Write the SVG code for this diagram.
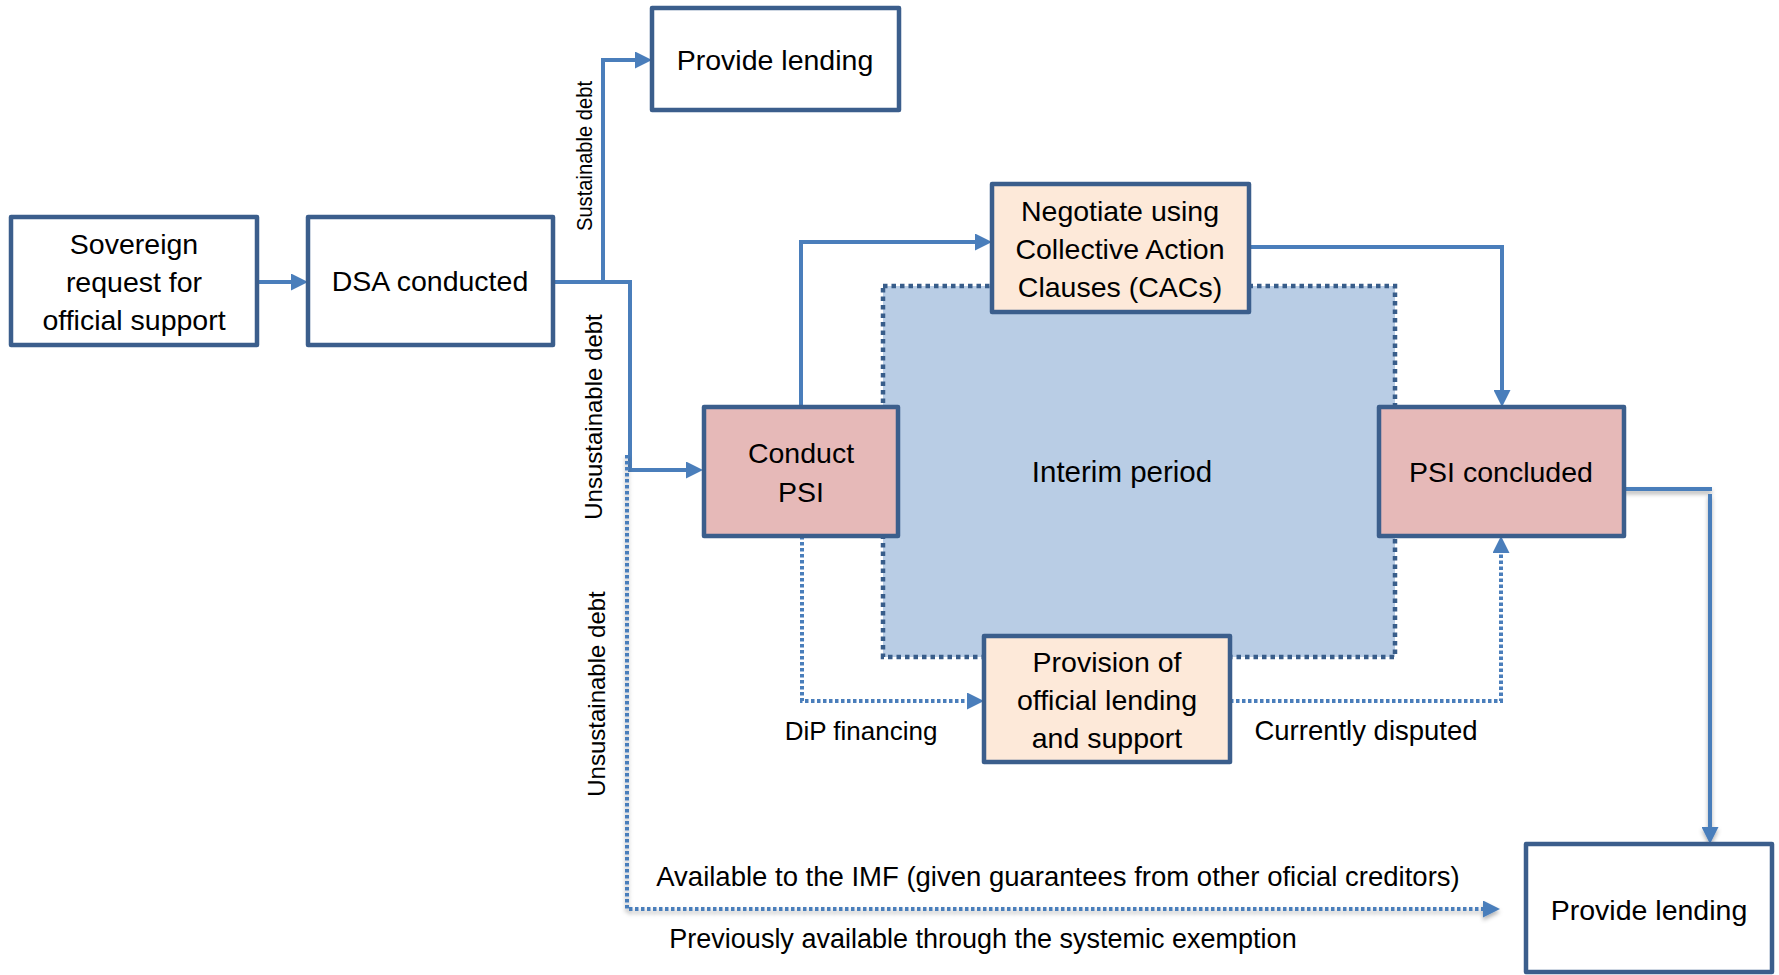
<svg xmlns="http://www.w3.org/2000/svg" width="1779" height="975" viewBox="0 0 1779 975">
<style>
.box{stroke:#3B5E8C;stroke-width:4.5;stroke-linejoin:round}
.w{fill:#fff}
.pink{fill:#E6B9B8}
.peach{fill:#FDE9D9}
.t{font-family:"Liberation Sans",Arial,sans-serif;font-size:28.5px;fill:#000;text-anchor:middle}
.lbl{font-family:"Liberation Sans",Arial,sans-serif;font-size:27px;fill:#000;text-anchor:middle}
.rot{font-family:"Liberation Sans",Arial,sans-serif;font-size:24px;fill:#000;text-anchor:middle}
.c{fill:none;stroke:#4A7EBB;stroke-width:4;marker-end:url(#ah)}
.d{fill:none;stroke:#4A7EBB;stroke-width:4;stroke-dasharray:3.5 2.5;marker-end:url(#ah)}
</style>
<defs>
<marker id="ah" markerUnits="userSpaceOnUse" markerWidth="17" markerHeight="17" refX="9" refY="8.5" orient="auto" viewBox="0 0 17 17"><path d="M0,0 L17,8.5 L0,17 Z" fill="#4A7EBB"/></marker>
<filter id="sh" x="-10%" y="-10%" width="120%" height="120%" filterUnits="userSpaceOnUse"><feDropShadow dx="0" dy="3" stdDeviation="2" flood-color="#000" flood-opacity="0.3"/></filter>
</defs>

<g id="interim">
<rect x="883" y="286" width="512" height="371" fill="#B9CDE5" stroke="#385D8A" stroke-width="4.5" stroke-dasharray="4.5 4"/>
<text class="t" x="1122" y="482" style="font-size:29.5px">Interim period</text>
</g>

<g id="connectors">
<path class="c" d="M257,282 H300"/>
<path class="c" d="M553,282 H630 V470 H695"/>
<path class="c" d="M603,282 V60 H644"/>
<path class="c" d="M801,407 V242 H984"/>
<path class="c" d="M1249,247 H1502 V399"/>
<path class="d" d="M802,536 V701 H976"/>
<path class="d" d="M1230,701 H1501 V544"/>
<path class="d" d="M627,455 V909 H1492" filter="url(#sh)"/>
<path d="M1624,489 H1712" fill="none" stroke="#4A7EBB" stroke-width="4" filter="url(#sh)"/>
<path class="c" d="M1710,494 V836" filter="url(#sh)"/>
<text class="rot" transform="translate(592,156) rotate(-90)" style="font-size:22.5px" textLength="150" lengthAdjust="spacingAndGlyphs">Sustainable debt</text>
<text class="rot" transform="translate(602,417) rotate(-90)">Unsustainable debt</text>
<text class="rot" transform="translate(605,694) rotate(-90)">Unsustainable debt</text>
<text class="lbl" x="861" y="740" style="font-size:26px">DiP financing</text>
<text class="lbl" x="1366" y="740" style="font-size:27.5px">Currently disputed</text>
<text class="lbl" x="1058" y="886" style="font-size:27.5px">Available to the IMF (given guarantees from other oficial creditors)</text>
<text class="lbl" x="983" y="948">Previously available through the systemic exemption</text>
</g>

<g id="sovereign">
<rect class="box w" x="11" y="217" width="246" height="128"/>
<text class="t" x="134" y="254">Sovereign</text>
<text class="t" x="134" y="292">request for</text>
<text class="t" x="134" y="330">official support</text>
</g>
<g id="dsa">
<rect class="box w" x="308" y="217" width="245" height="128"/>
<text class="t" x="430" y="291">DSA conducted</text>
</g>
<g id="lend1">
<rect class="box w" x="652" y="8" width="247" height="102"/>
<text class="t" x="775" y="70">Provide lending</text>
</g>
<g id="negotiate">
<rect class="box peach" x="992" y="184" width="257" height="128"/>
<text class="t" x="1120" y="221">Negotiate using</text>
<text class="t" x="1120" y="259">Collective Action</text>
<text class="t" x="1120" y="297">Clauses (CACs)</text>
</g>
<g id="conduct">
<rect class="box pink" x="704" y="407" width="194" height="129"/>
<text class="t" x="801" y="463">Conduct</text>
<text class="t" x="801" y="502">PSI</text>
</g>
<g id="concluded">
<rect class="box pink" x="1379" y="407" width="245" height="129"/>
<text class="t" x="1501" y="482">PSI concluded</text>
</g>
<g id="provision">
<rect class="box peach" x="984" y="636" width="246" height="126"/>
<text class="t" x="1107" y="672">Provision of</text>
<text class="t" x="1107" y="710">official lending</text>
<text class="t" x="1107" y="748">and support</text>
</g>
<g id="lend2">
<rect class="box w" x="1526" y="844" width="246" height="128"/>
<text class="t" x="1649" y="920">Provide lending</text>
</g>
</svg>
